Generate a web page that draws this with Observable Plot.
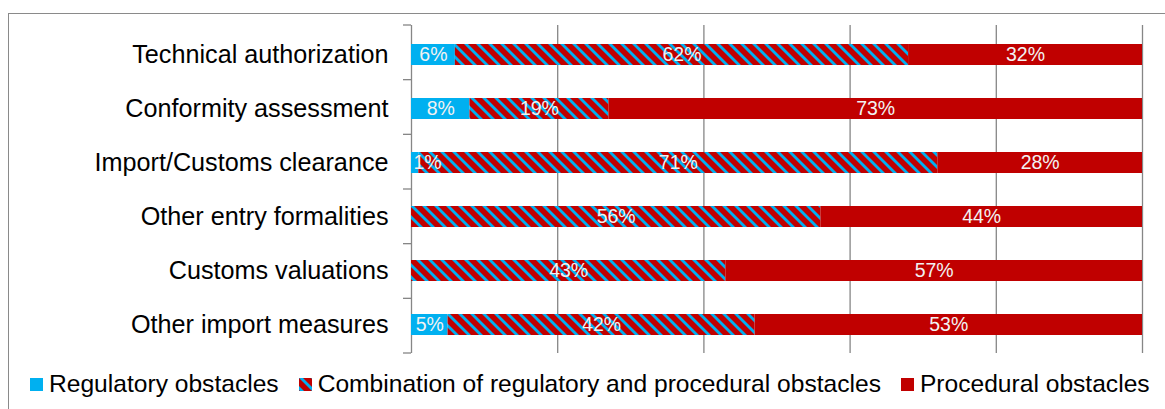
<!DOCTYPE html>
<html>
<head>
<meta charset="utf-8">
<script src="https://cdn.jsdelivr.net/npm/d3@7"></script>
<script src="https://cdn.jsdelivr.net/npm/@observablehq/plot@0.6"></script>
<style>
  html, body { margin: 0; padding: 0; background: #fff; }
  #chart {
    position: relative; width: 1165px; height: 409px; overflow: hidden;
    font-family: "Liberation Sans", Arial, sans-serif;
  }
  #frame {
    position: absolute; left: 8px; top: 13px; width: 1300px; height: 500px;
    border-left: 1px solid #8a8a8a; border-top: 1px solid #8a8a8a;
  }
  #plot { position: absolute; left: 0; top: 0; }
  #legend {
    position: absolute; left: 30px; top: 371px; display: flex; align-items: center;
    font-size: 24.6px; line-height: 26px; color: #000; white-space: nowrap;
  }
  #legend .item { display: flex; align-items: center; margin-right: 20px; }
  #legend .item:last-child { margin-right: 0; }
  #legend .swatch { width: 13px; height: 13px; margin-right: 6px; display: block; }
</style>
</head>
<body>
<div id="chart">
  <div id="frame"></div>
  <div id="plot"></div>
  <div id="legend"></div>
</div>
<script>
// Share of obstacles by measure type, percent of cases
const categories = [
  "Technical authorization",
  "Conformity assessment",
  "Import/Customs clearance",
  "Other entry formalities",
  "Customs valuations",
  "Other import measures"
];
const regulatory = [6, 8, 1, 0, 0, 5];
const combination = [62, 19, 71, 56, 43, 42];
const procedural = [32, 73, 28, 44, 57, 53];

const types = [
  "Regulatory obstacles",
  "Combination of regulatory and procedural obstacles",
  "Procedural obstacles"
];
const xTicks = [0, 20, 40, 60, 80, 100];

const blue = "#00B0F0";
const red = "#C00000";
const fills = [blue, "url(#combo-hatch)", red];
const series = [regulatory, combination, procedural];

const rows = categories.flatMap((category, i) =>
  types.map((type, j) => ({category, type, value: series[j][i]}))
);

const label = d => d.value > 0 ? `${d.value}%` : null;

// Diagonal red/blue stripes used for the combined category
function hatchDefs() {
  const g = d3.create("svg:g");
  const p = g.append("defs").append("pattern")
    .attr("id", "combo-hatch")
    .attr("patternUnits", "userSpaceOnUse")
    .attr("width", 12).attr("height", 12);
  p.append("rect").attr("width", 12).attr("height", 12).attr("fill", red);
  p.append("polygon").attr("points", "0,0 4,0 12,8 12,12").attr("fill", blue);
  p.append("polygon").attr("points", "0,8 4,12 0,12").attr("fill", blue);
  return g.node();
}

// Short ticks on the left of the axis at each category boundary
function bandTicks(index, scales, values, dimensions) {
  const top = dimensions.marginTop;
  const bottom = dimensions.height - dimensions.marginBottom;
  const n = categories.length;
  const x0 = dimensions.marginLeft;
  const g = d3.create("svg:g").attr("stroke", "#868686").attr("stroke-width", 1.3);
  d3.range(n + 1).forEach(i => {
    const y = top + (bottom - top) * i / n;
    g.append("line").attr("x1", x0 - 8).attr("x2", x0).attr("y1", y).attr("y2", y);
  });
  return g.node();
}

const chart = Plot.plot({
  width: 1165,
  height: 365,
  marginTop: 25,
  marginBottom: 12,
  marginLeft: 411,
  marginRight: 23,
  style: {
    fontFamily: '"Liberation Sans", Arial, sans-serif',
    fontSize: "25.2px",
    color: "#000",
    background: "transparent",
    overflow: "visible"
  },
  x: {domain: [0, 100], axis: null},
  y: {domain: categories, paddingInner: 0.616, paddingOuter: 0.308, label: null},
  color: {domain: types, range: fills},
  marks: [
    hatchDefs,
    Plot.ruleX(xTicks, {x: d => d, stroke: "#868686", strokeWidth: 1.3}),
    bandTicks,
    Plot.barX(rows, Plot.stackX({x: "value", y: "category", fill: "type", z: "type"})),
    Plot.text(rows, Plot.stackX({
      x: "value", y: "category", z: "type",
      text: d => d.value >= 3 ? label(d) : null,
      fill: "#f2f2f2", fontSize: 19.5
    })),
    Plot.text(rows, Plot.stackX1({
      x: "value", y: "category", z: "type",
      text: d => d.value > 0 && d.value < 3 ? label(d) : null,
      textAnchor: "start", dx: 2,
      fill: "#f2f2f2", fontSize: 19.5
    })),
    Plot.axisY({tickSize: 0, tickPadding: 23, fill: "#000"})
  ]
});
document.getElementById("plot").append(chart);

// Legend row
const legend = d3.select("#legend");
types.forEach((type, j) => {
  const item = legend.append("div").attr("class", "item");
  const sw = item.append("svg").attr("class", "swatch").attr("width", 13).attr("height", 13);
  sw.append("rect").attr("width", 13).attr("height", 13).attr("fill", fills[j]);
  item.append("span").text(type);
});
</script>
</body>
</html>
